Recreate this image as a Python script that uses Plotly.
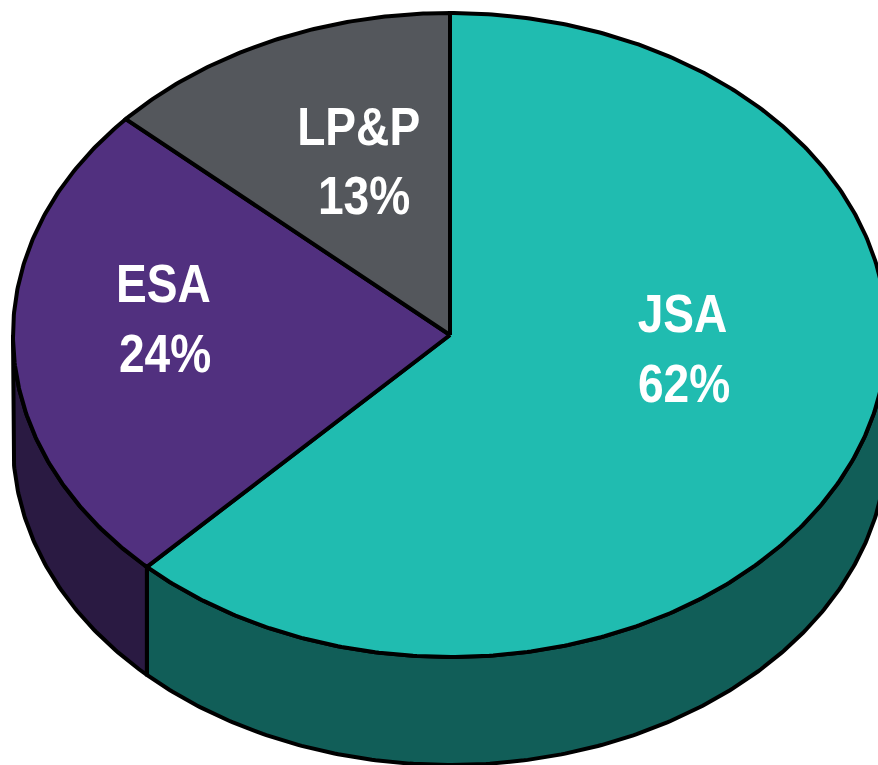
import math
import plotly.graph_objects as go

categories = ["JSA", "ESA", "LP&P"]
shares = [62.2, 24.5, 13.3]
pct_labels = [62, 24, 13]

top_colors = ["#20BCB0", "#51307F", "#54575C"]
side_colors = ["#115E58", "#2A1A42", "#33363A"]

W, H = 878, 765
CX, CY, RX, RY, DEPTH = 450, 335, 437, 322, 108
name_pos = [(682, 313), (163, 283), (358, 126)]
pct_pos = [(684, 383), (165, 353), (364, 195)]


def pt(deg, dy=0):
    r = math.radians(deg)
    return CX + RX * math.sin(r), CY - RY * math.cos(r) + dy


def arc(a, b, dy=0, step=0.5):
    n = max(2, int(abs(b - a) / step))
    return [pt(a + (b - a) * i / n, dy) for i in range(n + 1)]


fig = go.Figure()
line = dict(color="#000000", width=4)


def poly(points, color):
    xs = [p[0] for p in points] + [points[0][0]]
    ys = [p[1] for p in points] + [points[0][1]]
    fig.add_trace(go.Scatter(x=xs, y=ys, mode="lines", fill="toself",
                             fillcolor=color, line=line, hoverinfo="skip",
                             showlegend=False))


total = sum(shares)
edges = [0]
for s in shares:
    edges.append(edges[-1] + s / total * 360)

# side walls: only the front half of the cylinder (90..270 deg) is visible
for i in range(len(shares)):
    a, b = max(edges[i], 90), min(edges[i + 1], 270)
    if a < b:
        poly(arc(a, b) + arc(b, a, DEPTH), side_colors[i])

# top faces
for i in range(len(shares)):
    poly([(CX, CY)] + arc(edges[i], edges[i + 1]), top_colors[i])

font = dict(family="Liberation Sans, Arial, sans-serif", size=53,
            color="#FFFFFF", weight=700)
for i, c in enumerate(categories):
    for (x, y), txt in ((name_pos[i], c), (pct_pos[i], f"{pct_labels[i]}%")):
        fig.add_annotation(x=x, y=y, text=txt, showarrow=False,
                           font=font, xanchor="center", yanchor="middle")

fig.update_layout(
    width=W, height=H, margin=dict(l=0, r=0, t=0, b=0),
    paper_bgcolor="#FFFFFF", plot_bgcolor="#FFFFFF", showlegend=False,
    xaxis=dict(range=[0, W], visible=False, fixedrange=True),
    yaxis=dict(range=[H, 0], visible=False, fixedrange=True),
)

# The reference lettering is a condensed Arial bold: narrow the real text glyphs.
squeeze = """
document.body.style.margin='0';
document.body.style.overflow='hidden';
document.querySelectorAll('text.annotation-text').forEach(function (t) {
  t.setAttribute('lengthAdjust', 'spacingAndGlyphs');
  t.setAttribute('textLength', (t.getComputedTextLength() * 0.87).toFixed(1));
});
"""
fig.write_html("out.html", config={"displayModeBar": False}, post_script=squeeze)
